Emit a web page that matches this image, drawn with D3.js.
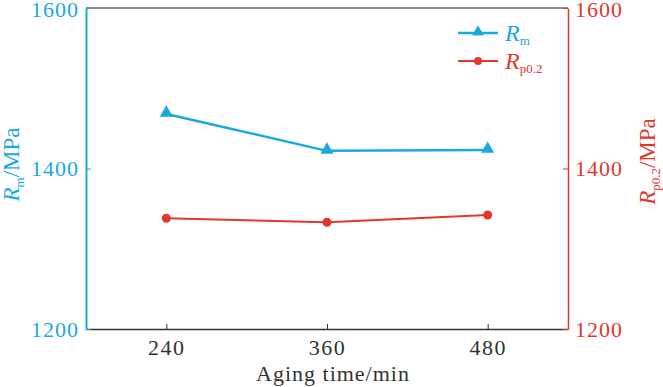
<!DOCTYPE html>
<html>
<head>
<meta charset="utf-8">
<script src="https://cdn.jsdelivr.net/npm/d3@7"></script>
<style>
  body { margin: 0; background: #fff; }
  svg text { font-family: "Liberation Serif", "Times New Roman", serif; }
</style>
</head>
<body>
<div id="chart"></div>
<script>
// aging time (min) and strengths (MPa)
const agingTimes = [240, 360, 480];
const rmValues = [1468, 1422, 1423];
const rp02Values = [1338, 1333, 1342];
const xTicks = [240, 360, 480];
const yTicks = [1200, 1400, 1600];

const cyan = '#1aa8e0';
const red = '#e2372c';
const serif = '"Liberation Serif", "Times New Roman", serif';

const margin = { top: 8, right: 95, bottom: 58, left: 86 };
const width = 663 - margin.left - margin.right;
const height = 387 - margin.top - margin.bottom;

const svg = d3.select('#chart').append('svg')
    .attr('width', 663)
    .attr('height', 387);

const g = svg.append('g')
    .attr('transform', `translate(${margin.left},${margin.top})`);

const xScale = d3.scaleLinear().domain([180, 540]).range([0, width]);
const yLeft = d3.scaleLinear().domain([1200, 1600]).range([height, 0]);
const yRight = d3.scaleLinear().domain([1200, 1600]).range([height, 0]);

// top frame line
g.append('line')
    .attr('x1', 0).attr('x2', width)
    .attr('y1', 0).attr('y2', 0)
    .attr('stroke', '#666').attr('stroke-width', 1.5);

// bottom axis, ticks inward
let xAxis = g.append('g')
    .attr('transform', `translate(0,${height})`)
    .attr('font-family', serif)
    .call(d3.axisBottom(xScale).tickValues(xTicks).tickFormat(d3.format('d'))
        .tickSize(-5).tickPadding(10).tickSizeOuter(0));
xAxis.select('.domain').attr('stroke', '#333').attr('stroke-width', 1.5);
xAxis.selectAll('.tick line').attr('stroke', '#333');
xAxis.selectAll('.tick text')
    .attr('font-size', 22).attr('fill', '#333').attr('letter-spacing', 1.5);

// left axis
let yAxisL = g.append('g')
    .attr('font-family', serif)
    .call(d3.axisLeft(yLeft).tickValues(yTicks).tickFormat(d3.format('d'))
        .tickSize(-5).tickPadding(7).tickSizeOuter(0));
yAxisL.select('.domain').attr('stroke', cyan).attr('stroke-width', 2);
yAxisL.selectAll('.tick line').attr('stroke', cyan);
yAxisL.selectAll('.tick text')
    .attr('font-size', 22).attr('fill', cyan).attr('letter-spacing', 1)
    .attr('dy', d => d === 1600 ? '0.4em' : '0.32em');

// right axis
let yAxisR = g.append('g')
    .attr('transform', `translate(${width},0)`)
    .attr('font-family', serif)
    .call(d3.axisRight(yRight).tickValues(yTicks).tickFormat(d3.format('d'))
        .tickSize(-5).tickPadding(7).tickSizeOuter(0));
yAxisR.select('.domain').attr('stroke', red).attr('stroke-width', 1.5);
yAxisR.selectAll('.tick line').attr('stroke', red);
yAxisR.selectAll('.tick text')
    .attr('font-size', 22).attr('fill', red).attr('letter-spacing', 1)
    .attr('dy', d => d === 1600 ? '0.4em' : '0.32em');

// axis titles
g.append('text')
    .attr('x', width / 2 + 6).attr('y', height + 52)
    .attr('text-anchor', 'middle')
    .attr('font-size', 22).attr('fill', '#333').attr('letter-spacing', 1)
    .text('Aging time/min');

let leftTitle = g.append('text')
    .attr('transform', `translate(${-67},${height / 2 - 4}) rotate(-90)`)
    .attr('text-anchor', 'middle')
    .attr('font-size', 23).attr('fill', cyan);
leftTitle.append('tspan').attr('font-style', 'italic').text('R');
leftTitle.append('tspan').attr('font-size', 13).attr('dy', 5).text('m');
leftTitle.append('tspan').attr('dy', -5).text('/MPa');

let rightTitle = g.append('text')
    .attr('transform', `translate(${width + 87},${height / 2 - 7}) rotate(-90)`)
    .attr('text-anchor', 'middle')
    .attr('font-size', 23).attr('fill', red);
rightTitle.append('tspan').attr('font-style', 'italic').text('R');
rightTitle.append('tspan').attr('font-size', 13).attr('dy', 5).text('p0.2');
rightTitle.append('tspan').attr('dy', -5).text('/MPa');

// lines
const line = (scale) => d3.line()
    .x((d, i) => xScale(agingTimes[i]))
    .y(d => scale(d));

g.append('path')
    .datum(rmValues)
    .attr('d', line(yLeft))
    .attr('fill', 'none').attr('stroke', cyan).attr('stroke-width', 2.5);

g.append('path')
    .datum(rp02Values)
    .attr('d', line(yRight))
    .attr('fill', 'none').attr('stroke', red).attr('stroke-width', 2);

const tri = d3.symbol().type(d3.symbolTriangle).size(75);

g.selectAll('.rm-pt')
    .data(rmValues)
    .enter().append('path')
    .attr('d', tri)
    .attr('transform', (d, i) => `translate(${xScale(agingTimes[i])},${yLeft(d) - 1})`)
    .attr('fill', cyan);

g.selectAll('.rp-pt')
    .data(rp02Values)
    .enter().append('circle')
    .attr('cx', (d, i) => xScale(agingTimes[i]))
    .attr('cy', d => yRight(d))
    .attr('r', 4.5)
    .attr('fill', red);

// legend
let legend = g.append('g')
    .attr('transform', `translate(${458 - margin.left},${33 - margin.top})`);

legend.append('line')
    .attr('x1', 0).attr('x2', 40).attr('y1', 0).attr('y2', 0)
    .attr('stroke', cyan).attr('stroke-width', 2.5);
legend.append('path')
    .attr('d', d3.symbol().type(d3.symbolTriangle).size(60))
    .attr('transform', 'translate(20,-1)')
    .attr('fill', cyan);
let lt1 = legend.append('text')
    .attr('x', 47).attr('y', 8)
    .attr('font-size', 24).attr('fill', cyan);
lt1.append('tspan').attr('font-style', 'italic').text('R');
lt1.append('tspan').attr('font-size', 13).attr('dy', 4).text('m');

legend.append('line')
    .attr('x1', 0).attr('x2', 40).attr('y1', 28).attr('y2', 28)
    .attr('stroke', red).attr('stroke-width', 2);
legend.append('circle')
    .attr('cx', 20).attr('cy', 28).attr('r', 4)
    .attr('fill', red);
let lt2 = legend.append('text')
    .attr('x', 47).attr('y', 36)
    .attr('font-size', 24).attr('fill', red);
lt2.append('tspan').attr('font-style', 'italic').text('R');
lt2.append('tspan').attr('font-size', 13).attr('dy', 4).text('p0.2');
</script>
</body>
</html>
